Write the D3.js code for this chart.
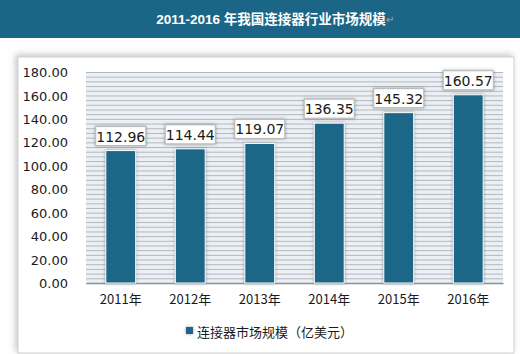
<!DOCTYPE html>
<html lang="zh">
<head>
<meta charset="UTF-8">
<title>2011-2016年我国连接器行业市场规模</title>
<script src="https://cdn.jsdelivr.net/npm/d3@7"></script>
<style>
  body { margin: 0; background: #fff; }
  text { font-family: "Noto Sans CJK SC", "DejaVu Sans", sans-serif; }
</style>
</head>
<body>
<script>
    // 数据
    var years = ["2011年", "2012年", "2013年", "2014年", "2015年", "2016年"];
    var values = [112.96, 114.44, 119.07, 136.35, 145.32, 160.57];
    var yTicks = [0, 20, 40, 60, 80, 100, 120, 140, 160, 180];
    var seriesName = "连接器市场规模（亿美元）";
    var title = "2011-2016 年我国连接器行业市场规模";

    var width = 520, height = 354;
    var mainColor = "#1b6687";
    var plot = {left: 86, right: 503, top: 72, bottom: 283};

    var svg = d3.select("body").append("svg")
        .attr("width", width)
        .attr("height", height);

    var defs = svg.append("defs");
    var f = defs.append("filter").attr("id", "shadow")
        .attr("x", "-30%").attr("y", "-30%").attr("width", "160%").attr("height", "160%");
    f.append("feDropShadow").attr("dx", 0).attr("dy", 0).attr("stdDeviation", 1.6)
        .attr("flood-color", "#555").attr("flood-opacity", 0.6);
    var f2 = defs.append("filter").attr("id", "boxshadow")
        .attr("x", "-5%").attr("y", "-5%").attr("width", "110%").attr("height", "110%");
    f2.append("feDropShadow").attr("dx", -2).attr("dy", -2).attr("stdDeviation", 3)
        .attr("flood-color", "#888").attr("flood-opacity", 0.5);

    //标题栏
    svg.append("rect").attr("x", 0).attr("y", 0).attr("width", width).attr("height", 38)
        .attr("fill", mainColor);
    var t = svg.append("text").attr("x", 275).attr("y", 19)
        .attr("text-anchor", "middle").attr("dominant-baseline", "central")
        .attr("fill", "#fff").style("font-weight", "bold").style("font-size", "13.5px")
        .style("font-family", "'Liberation Sans', 'Noto Sans CJK SC', sans-serif");
    t.append("tspan").text(title);
    t.append("tspan").attr("fill", "#aaa").style("font-weight", "normal").style("font-size", "10px").text("↵");

    //图表外框
    svg.append("rect").attr("x", 18).attr("y", 57).attr("width", 496).attr("height", 296)
        .attr("fill", "#fff").attr("stroke", "#d0d0d0").attr("filter", "url(#boxshadow)");

    //比例尺
    var x = d3.scaleBand().domain(years).range([plot.left, plot.right]).paddingInner(0.57).paddingOuter(0.285);
    var y = d3.scaleLinear().domain([0, 180]).range([plot.bottom, plot.top]);

    //绘图区背景与网格线
    svg.append("rect").attr("x", plot.left).attr("y", plot.top)
        .attr("width", plot.right - plot.left).attr("height", plot.bottom - plot.top)
        .attr("fill", "#eaf0f6");
    var minor = d3.range(0, 181, 4);
    svg.append("g").selectAll("line").data(minor).enter().append("line")
        .attr("x1", plot.left).attr("x2", plot.right)
        .attr("y1", function (d) { return y(d) + 0.5; })
        .attr("y2", function (d) { return y(d) + 0.5; })
        .attr("stroke", "#b4b8bc").attr("stroke-width", 1);

    //y轴
    var axisY = d3.axisLeft(y).tickValues(yTicks).tickSize(0).tickPadding(18)
        .tickFormat(function (d) { return d.toFixed(2); });
    var gy = svg.append("g").attr("transform", "translate(" + plot.left + ",0)").call(axisY);
    gy.select(".domain").remove();
    gy.selectAll("text").attr("fill", "#1a1a1a").style("font-size", "13px")
        .style("font-family", "'DejaVu Sans', sans-serif").attr("dy", "0.35em");

    //x轴
    var axisX = d3.axisBottom(x).tickSize(0).tickPadding(12);
    var gx = svg.append("g").attr("transform", "translate(0," + plot.bottom + ")").call(axisX);
    gx.select(".domain").attr("stroke", "#8c9196").attr("stroke-width", 1.5);
    gx.selectAll("text").attr("fill", "#1a1a1a").style("font-size", "13px");

    //柱子
    svg.append("g").selectAll("rect").data(values).enter().append("rect")
        .attr("x", function (d, i) { return x(years[i]); })
        .attr("y", function (d) { return y(d); })
        .attr("width", x.bandwidth())
        .attr("height", function (d) { return y(0) - y(d); })
        .attr("fill", mainColor).attr("stroke", "#fff").attr("stroke-width", 1)
        .attr("filter", "url(#shadow)");

    //数据标签
    var labels = svg.append("g").selectAll("g").data(values).enter().append("g")
        .attr("transform", function (d, i) {
            return "translate(" + (x(years[i]) + x.bandwidth() / 2) + "," + (y(d) - 14) + ")";
        });
    labels.append("rect").attr("x", -25).attr("y", -10).attr("width", 50).attr("height", 19)
        .attr("fill", "#fff").attr("stroke", "#b8b8b8").attr("filter", "url(#shadow)");
    labels.append("text").attr("text-anchor", "middle").attr("dominant-baseline", "central")
        .attr("fill", "#1a1a1a").style("font-size", "14px")
        .style("font-family", "'DejaVu Sans', sans-serif")
        .text(function (d) { return d.toFixed(2); });

    //图例
    var lg = svg.append("g").attr("transform", "translate(186,331)");
    lg.append("rect").attr("x", 0).attr("y", -4).attr("width", 7).attr("height", 7)
        .attr("fill", mainColor).attr("filter", "url(#shadow)");
    lg.append("text").attr("x", 11).attr("y", 0).attr("dominant-baseline", "central")
        .attr("fill", "#1a1a1a").style("font-size", "13px").text(seriesName);
</script>
</body>
</html>
